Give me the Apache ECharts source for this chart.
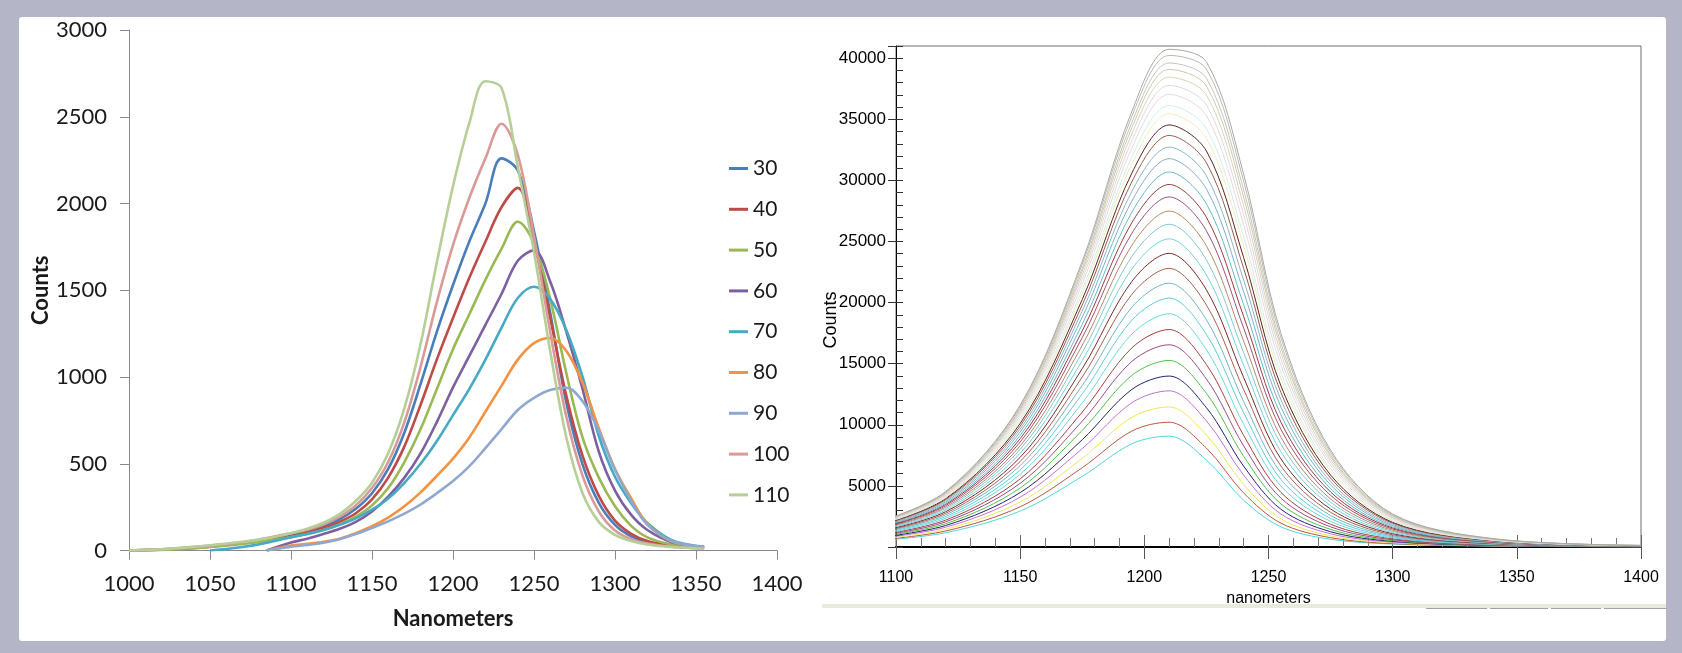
<!DOCTYPE html>
<html>
<head>
<meta charset="utf-8">
<script src="https://cdn.jsdelivr.net/npm/echarts@6/dist/echarts.min.js"></script>
<style>
  html, body { margin: 0; padding: 0; background: #b4b5c6; }
  #chart { width: 1682px; height: 653px; }
</style>
</head>
<body>
<div id="chart"></div>
<script>
// ---- Left panel: spectra at different temperatures ----
const nmLeft = [1000, 1025, 1050, 1070, 1085, 1100, 1110, 1120, 1130, 1140, 1150, 1160, 1170, 1180, 1190, 1200, 1210, 1220, 1230, 1240, 1250, 1260, 1270, 1280, 1290, 1300, 1310, 1320, 1335, 1355];
const tempLabels = ['30', '40', '50', '60', '70', '80', '90', '100', '110'];
const counts30  = [0, 8, 25, 45, 65, 96, 115, 140, 180, 240, 330, 470, 680, 960, 1260, 1530, 1780, 2000, 2260, 2190, 1840, 1370, 850, 495, 275, 148, 82, 48, 25, 13];
const counts40  = [0, 6, 22, 42, 60, 87, 105, 130, 165, 215, 295, 420, 600, 840, 1100, 1340, 1570, 1780, 1980, 2090, 1780, 1340, 890, 545, 315, 172, 96, 55, 28, 15];
const counts50  = [0, 5, 20, 38, 55, 77, 95, 118, 150, 195, 260, 360, 510, 700, 930, 1160, 1360, 1560, 1740, 1895, 1770, 1450, 1020, 650, 420, 255, 142, 76, 35, 16];
const counts60  = [null, null, null, null, 0, 46, 68, 95, 125, 165, 225, 310, 420, 560, 740, 940, 1120, 1300, 1480, 1670, 1730, 1550, 1260, 930, 570, 345, 205, 118, 48, 18];
const counts70  = [null, null, 0, 20, 45, 77, 95, 118, 148, 185, 235, 300, 390, 500, 630, 780, 930, 1100, 1285, 1455, 1520, 1450, 1270, 1000, 660, 425, 272, 158, 60, 22];
const counts80  = [null, null, null, null, 0, 28, 38, 50, 68, 100, 140, 190, 255, 335, 430, 530, 650, 800, 950, 1100, 1195, 1225, 1150, 965, 705, 470, 300, 155, 52, 20];
const counts90  = [null, null, null, null, 0, 22, 32, 45, 65, 95, 130, 168, 212, 265, 330, 400, 485, 590, 700, 810, 880, 925, 938, 860, 690, 465, 285, 148, 55, 20];
const counts100 = [0, 10, 28, 48, 72, 100, 120, 150, 195, 260, 360, 510, 740, 1060, 1430, 1760, 2030, 2260, 2460, 2280, 1810, 1260, 770, 430, 225, 115, 65, 40, 22, 12];
const counts110 = [0, 10, 30, 50, 70, 100, 125, 160, 210, 285, 390, 560, 820, 1190, 1660, 2100, 2460, 2705, 2665, 2210, 1720, 1150, 650, 330, 165, 90, 55, 35, 20, 10];
const leftCounts = [counts30, counts40, counts50, counts60, counts70, counts80, counts90, counts100, counts110];
const tempColors = ['#4a7ebb', '#be4b48', '#98b954', '#7d60a0', '#46aac5', '#f39240', '#8fa8cf', '#d99a98', '#b5cf97'];

// ---- Right panel: acquisition series ----
const nmRight = [1090, 1120, 1150, 1175, 1195, 1210, 1225, 1240, 1255, 1275, 1300, 1340, 1400];
const rightSpectra = [
  [460, 1170, 2940, 5780, 8450, 9070, 7120, 3820, 1650, 630, 240, 70, 10],
  [510, 1310, 3290, 6490, 9490, 10210, 8090, 4420, 1950, 760, 280, 90, 20],
  [570, 1460, 3680, 7250, 10620, 11460, 9170, 5110, 2300, 910, 340, 100, 20],
  [640, 1620, 4080, 8050, 11810, 12780, 10320, 5880, 2700, 1080, 400, 120, 20],
  [700, 1760, 4450, 8780, 12900, 13990, 11400, 6610, 3090, 1250, 460, 130, 30],
  [760, 1910, 4830, 9550, 14050, 15270, 12570, 7420, 3530, 1440, 520, 150, 30],
  [820, 2060, 5210, 10300, 15190, 16550, 13750, 8270, 4000, 1650, 590, 170, 30],
  [870, 2200, 5570, 11040, 16300, 17800, 14930, 9130, 4470, 1860, 670, 190, 40],
  [930, 2350, 5950, 11790, 17430, 19090, 16150, 10040, 4990, 2100, 750, 210, 40],
  [990, 2490, 6310, 12530, 18560, 20370, 17390, 10990, 5530, 2340, 830, 230, 40],
  [1050, 2630, 6660, 13220, 19620, 21590, 18590, 11910, 6070, 2580, 910, 250, 50],
  [1100, 2760, 7000, 13910, 20680, 22800, 19800, 12880, 6630, 2840, 1000, 270, 50],
  [1150, 2890, 7340, 14600, 21740, 24030, 21040, 13870, 7210, 3110, 1090, 300, 60],
  [1200, 3020, 7670, 15260, 22760, 25220, 22260, 14870, 7800, 3380, 1180, 320, 60],
  [1260, 3150, 7990, 15920, 23780, 26410, 23500, 15900, 8420, 3660, 1280, 340, 70],
  [1300, 3260, 8280, 16510, 24700, 27490, 24640, 16850, 8990, 3930, 1370, 370, 70],
  [1350, 3380, 8590, 17140, 25680, 28650, 25880, 17910, 9630, 4230, 1470, 390, 80],
  [1390, 3480, 8860, 17690, 26550, 29670, 26980, 18860, 10210, 4500, 1560, 420, 80],
  [1440, 3580, 9130, 18230, 27400, 30690, 28090, 19830, 10810, 4780, 1650, 440, 80],
  [1480, 3690, 9410, 18810, 28320, 31780, 29300, 20890, 11460, 5080, 1750, 460, 90],
  [1520, 3790, 9650, 19320, 29110, 32730, 30370, 21840, 12050, 5350, 1840, 480, 90],
  [1560, 3880, 9890, 19810, 29900, 33680, 31440, 22800, 12640, 5640, 1940, 510, 100],
  [1600, 3960, 10110, 20260, 30610, 34540, 32410, 23680, 13190, 5890, 2020, 530, 100],
  [1630, 4050, 10340, 20730, 31360, 35450, 33460, 24640, 13790, 6180, 2120, 550, 110],
  [1660, 4120, 10510, 21080, 31930, 36140, 34260, 25380, 14250, 6390, 2190, 570, 110],
  [1700, 4200, 10730, 21550, 32670, 37050, 35310, 26360, 14870, 6690, 2290, 600, 120],
  [1730, 4270, 10910, 21920, 33270, 37780, 36180, 27160, 15380, 6930, 2370, 610, 120],
  [1750, 4330, 11070, 22260, 33830, 38460, 36990, 27920, 15860, 7150, 2440, 630, 120],
  [1780, 4390, 11220, 22570, 34330, 39090, 37730, 28620, 16310, 7370, 2510, 650, 130],
  [1800, 4440, 11350, 22830, 34760, 39610, 38360, 29220, 16680, 7540, 2570, 660, 130],
  [1820, 4490, 11500, 23150, 35260, 40230, 39110, 29930, 17140, 7760, 2640, 680, 130],
  [1840, 4540, 11610, 23390, 35660, 40730, 39700, 30500, 17500, 7930, 2700, 700, 130]
];
const spectraColors = [
  '#4fd6dc', '#b4593f', '#eee85a', '#c46ed6', '#23236e', '#4cc24c', '#9b4a86', '#a8403c',
  '#6ad8e0', '#5ccfd8', '#6fb4c6', '#a8604c', '#7c2a2a', '#74d2da', '#84c6d0',
  '#b48a62', '#a0507a', '#9c3a3a', '#62bccb', '#80aec6', '#8ab6cc', '#9c5c44', '#5a2424',
  '#f2ecb8', '#cdeff0', '#efd6d8', '#d8dae8', '#ddd2b4', '#cfc8ae', '#c4c4bc', '#b9b9b2', '#a9a9a2'
];

const toPairs = (xs, ys) => xs.map((x, i) => [x, ys[i]]).filter(p => p[1] !== null);
const plainNumber = v => String(v);

const leftSeries = leftCounts.map((vals, i) => ({
  name: tempLabels[i],
  type: 'line',
  xAxisIndex: 0,
  yAxisIndex: 0,
  data: toPairs(nmLeft, vals),
  showSymbol: false,
  smooth: 0.35,
  silent: true,
  lineStyle: { width: 2.6, color: tempColors[i] },
  itemStyle: { color: tempColors[i] }
}));

const rightSeries = rightSpectra.map((vals, i) => ({
  type: 'line',
  xAxisIndex: 1,
  yAxisIndex: 1,
  data: toPairs(nmRight, vals),
  showSymbol: false,
  smooth: 0.33,
  silent: true,
  lineStyle: { width: 1, color: spectraColors[i] },
  itemStyle: { color: spectraColors[i] }
}));

const leftFont = 'Lato';
const rightFont = '"Liberation Sans", Arial, sans-serif';

// thin divider segments under the right panel
const dividerSegments = [[1426, 1487], [1490, 1548], [1551, 1601], [1604, 1666]].map(([a, b]) => ({
  type: 'line', z: -4, shape: { x1: a, y1: 608.5, x2: b, y2: 608.5 }, style: { stroke: '#a3a3a3', lineWidth: 1 }
}));

const option = {
  animation: false,
  backgroundColor: 'transparent',
  graphic: [
    { type: 'rect', z: -10, shape: { x: 19, y: 17, width: 1647, height: 624, r: 3 }, style: { fill: '#ffffff' } },
    { type: 'rect', z: -5, shape: { x: 822, y: 604, width: 844, height: 4 }, style: { fill: '#ebe9dc' } },
    { type: 'text', x: 831, y: 320, rotation: Math.PI / 2,
      style: { text: 'Counts', font: '18px "Liberation Sans", Arial, sans-serif', fill: '#000', textAlign: 'center', textVerticalAlign: 'middle' } }
  ].concat(dividerSegments),
  legend: {
    data: tempLabels,
    orient: 'vertical',
    left: 724,
    top: 152,
    itemWidth: 19,
    itemHeight: 3,
    itemGap: 17.8,
    icon: 'rect',
    selectedMode: false,
    textStyle: { fontFamily: leftFont, fontSize: 21, color: '#1a1a1a', lineHeight: 23 }
  },
  grid: [
    { left: 129, top: 30, width: 648, height: 520.5 },
    { left: 896, top: 46, width: 745, height: 501, show: true, borderColor: '#6d6d6d', borderWidth: 1, backgroundColor: 'transparent' }
  ],
  xAxis: [
    {
      gridIndex: 0, type: 'value', min: 1000, max: 1400, interval: 50,
      axisLine: { show: true, onZero: false, lineStyle: { color: '#8a8a8a', width: 1 } },
      axisTick: { show: true, length: 9, lineStyle: { color: '#8a8a8a' } },
      axisLabel: { fontFamily: leftFont, fontSize: 22, color: '#1a1a1a', margin: 22, formatter: plainNumber },
      splitLine: { show: false },
      name: 'Nanometers', nameLocation: 'middle', nameGap: 57,
      nameTextStyle: { fontFamily: leftFont, fontWeight: 'bold', fontSize: 22, color: '#1a1a1a' }
    },
    {
      gridIndex: 1, type: 'value', min: 1100, max: 1400, interval: 50, position: 'bottom',
      axisLine: { show: true, onZero: false, lineStyle: { color: '#000', width: 2 } },
      axisTick: { show: true, length: 12, lineStyle: { color: '#555' } },
      axisLabel: { fontFamily: rightFont, fontSize: 16, color: '#000', margin: 23, formatter: plainNumber },
      splitLine: { show: false },
      name: 'nanometers', nameLocation: 'middle', nameGap: 33,
      nameTextStyle: { fontFamily: rightFont, fontSize: 16, color: '#000' }
    },
    {
      gridIndex: 1, type: 'value', min: 1100, max: 1400, interval: 50, position: 'bottom',
      axisLine: { show: false, onZero: false },
      axisTick: { show: true, inside: true, length: 12, lineStyle: { color: '#666' } },
      minorTick: { show: true, splitNumber: 5, length: 9, lineStyle: { color: '#777' } },
      axisLabel: { show: false },
      splitLine: { show: false }
    }
  ],
  yAxis: [
    {
      gridIndex: 0, type: 'value', min: 0, max: 3000, interval: 500,
      axisLine: { show: true, lineStyle: { color: '#8a8a8a', width: 1 } },
      axisTick: { show: true, length: 9, lineStyle: { color: '#8a8a8a' } },
      axisLabel: { fontFamily: leftFont, fontSize: 22, color: '#1a1a1a', margin: 22, formatter: plainNumber },
      splitLine: { show: false },
      name: 'Counts', nameLocation: 'middle', nameGap: 73,
      nameTextStyle: { fontFamily: leftFont, fontWeight: 'bold', fontSize: 22, color: '#1a1a1a' }
    },
    {
      gridIndex: 1, type: 'value', min: 0, max: 41000, interval: 5000, position: 'left',
      axisLine: { show: true, onZero: false, lineStyle: { color: '#000', width: 1 } },
      axisTick: { show: true, length: 8, lineStyle: { color: '#333' } },
      axisLabel: {
        fontFamily: rightFont, fontSize: 17, color: '#000', margin: 10,
        formatter: v => (v > 0 && v % 5000 === 0) ? String(v) : ''
      },
      splitLine: { show: false }
    },
    {
      gridIndex: 1, type: 'value', min: 0, max: 41000, interval: 1000, position: 'left',
      axisLine: { show: false, onZero: false },
      axisTick: { show: true, inside: true, length: 7, lineStyle: { color: '#333' } },
      axisLabel: { show: false },
      splitLine: { show: false }
    }
  ],
  series: leftSeries.concat(rightSeries)
};

const chart = echarts.init(document.getElementById('chart'));
chart.setOption(option);
</script>
</body>
</html>
